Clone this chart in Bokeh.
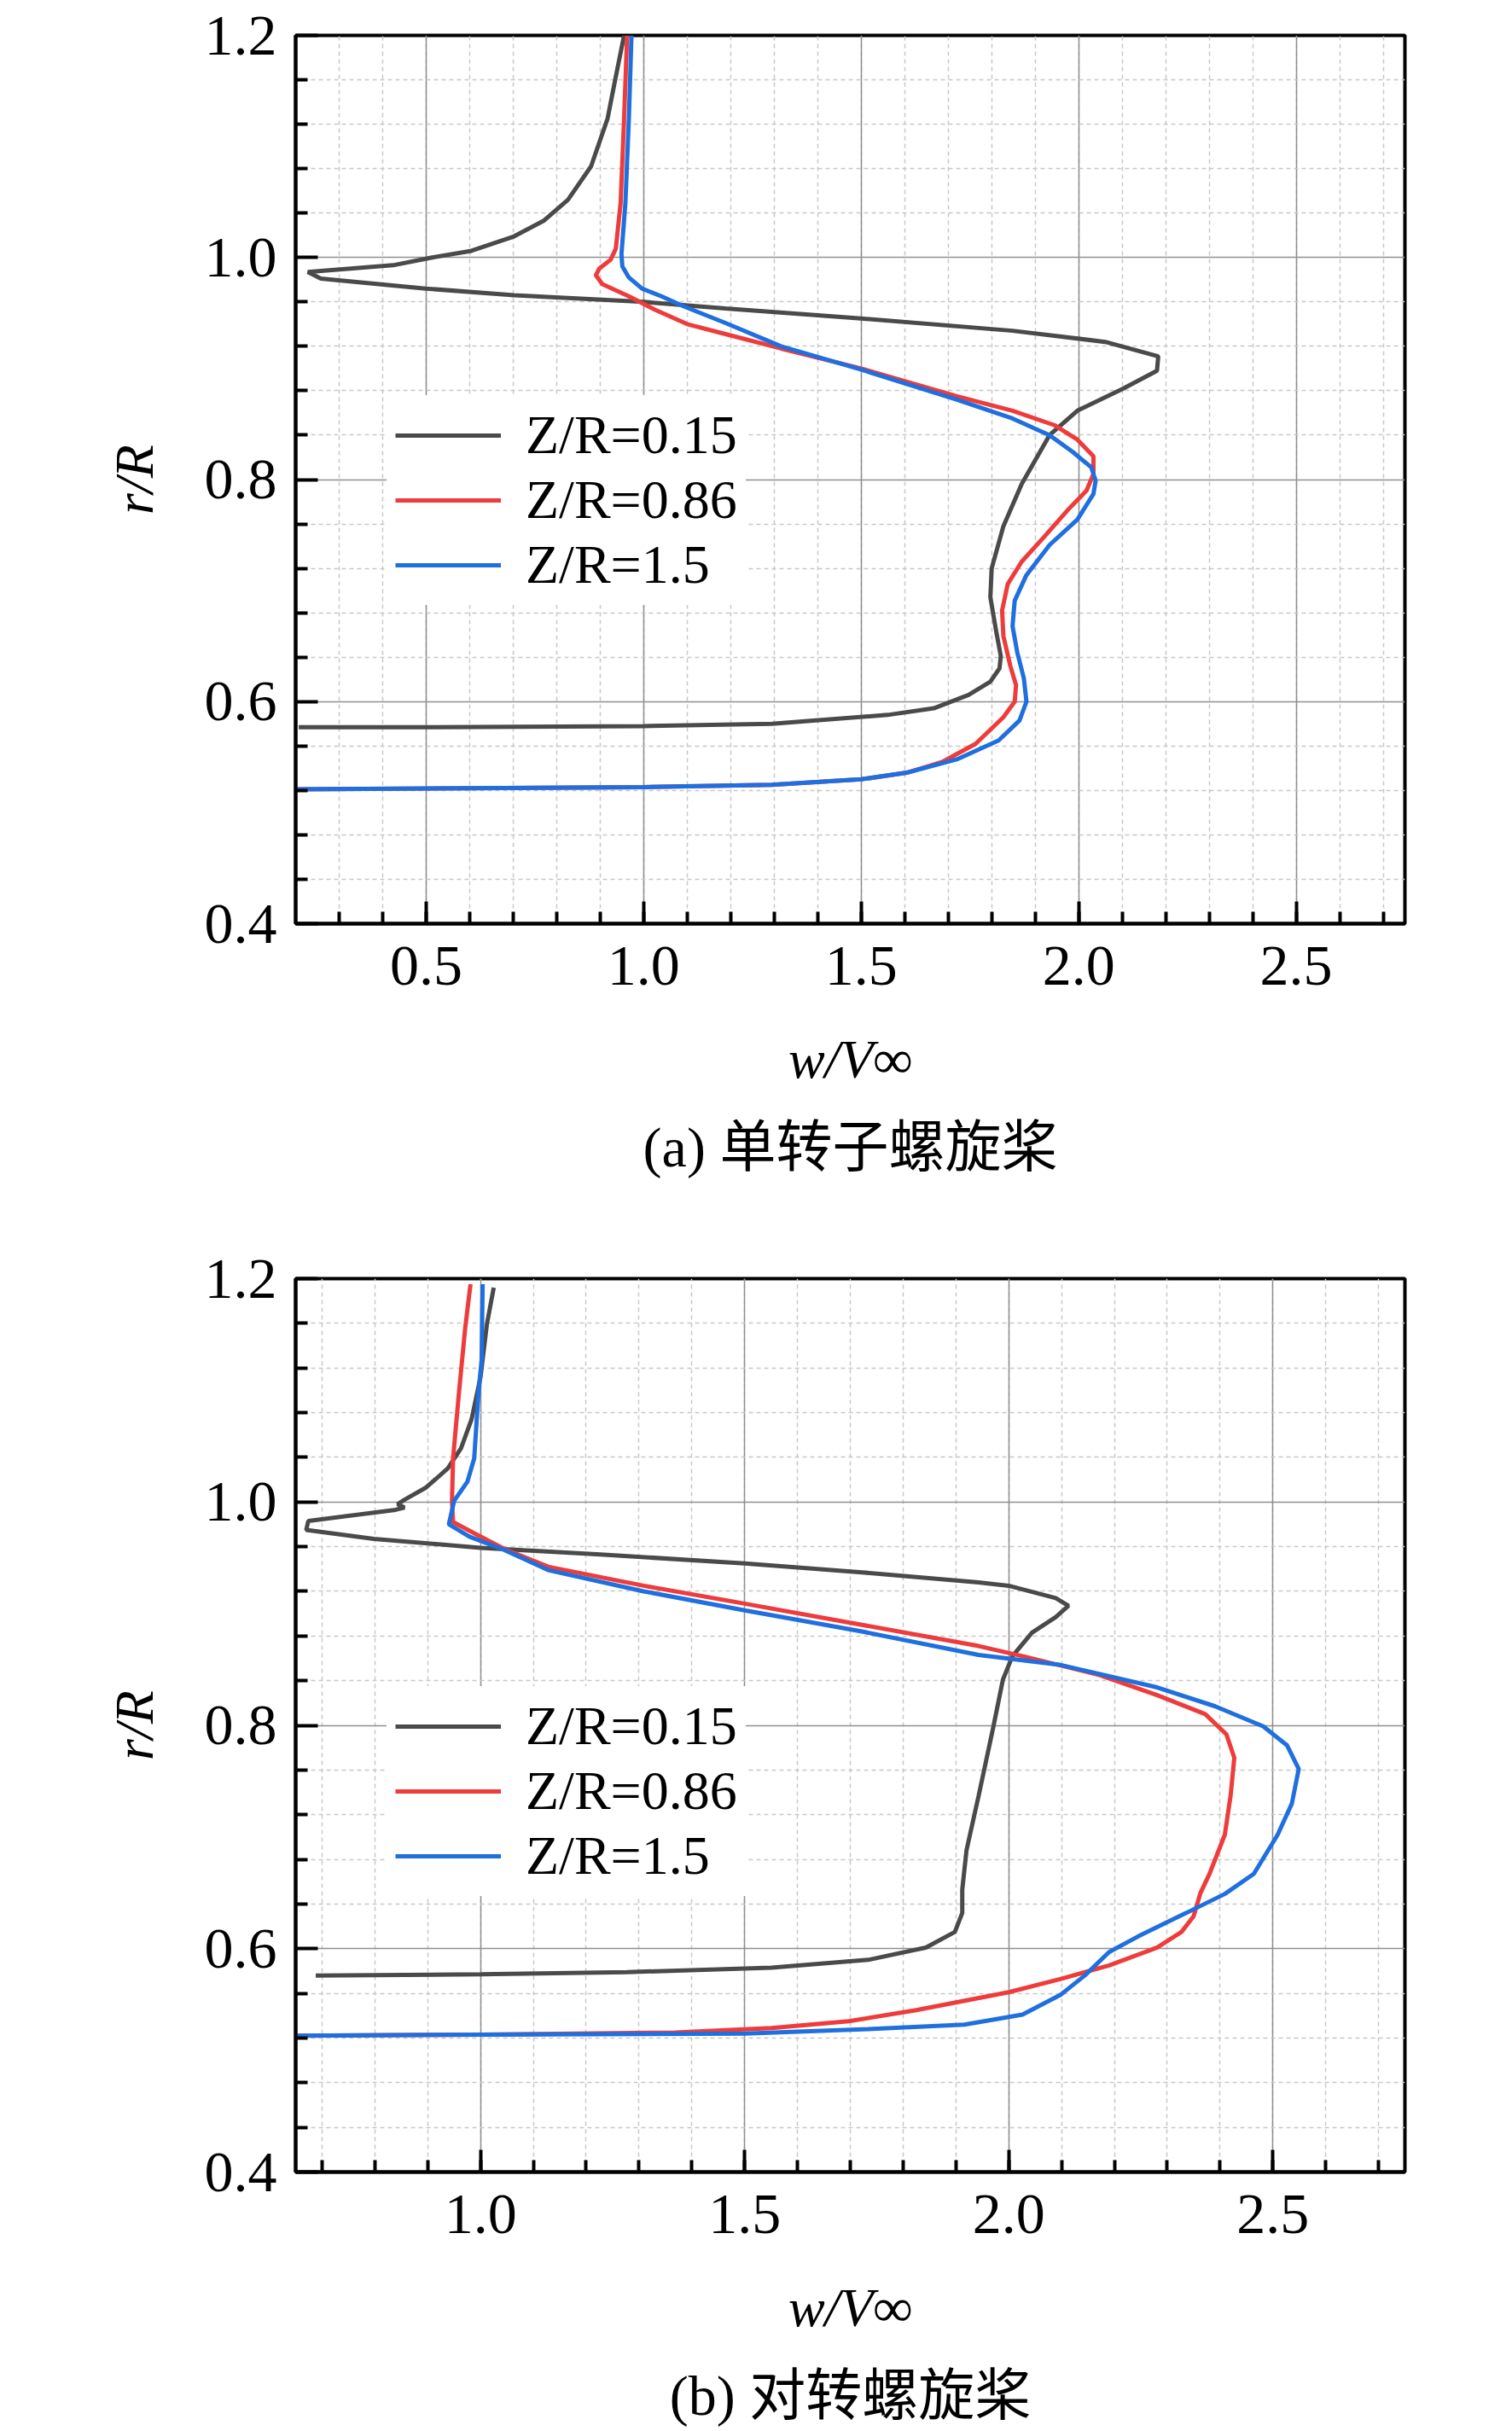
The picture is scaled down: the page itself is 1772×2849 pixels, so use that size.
from bokeh.plotting import figure
from bokeh.layouts import column
from bokeh.models import (Range1d, SingleIntervalTicker, FixedTicker, PrintfTickFormatter,
                          Legend, LegendItem, Title)
from bokeh.embed import file_html
from bokeh.resources import INLINE

# ---------------- data ----------------
series_labels = ["Z/R=0.15", "Z/R=0.86", "Z/R=1.5"]
series_colors = ["#4a4a4a", "#ee3b3b", "#1f6fde"]

# (a) single-rotor propeller
a_015_x = [0.955, 0.936, 0.917, 0.879, 0.826, 0.770, 0.702, 0.604, 0.514, 0.424, 0.228, 0.258,
           0.499, 0.702, 1.0, 1.188, 1.5, 1.848, 2.061, 2.183, 2.180, 2.103, 1.997, 1.933,
           1.869, 1.827, 1.800, 1.797, 1.811, 1.821, 1.818, 1.797, 1.747, 1.667, 1.561,
           1.295, 1.0, 0.518, 0.207]
a_015_y = [1.2, 1.163, 1.125, 1.082, 1.052, 1.033, 1.019, 1.006, 1.000, 0.993, 0.987, 0.981,
           0.972, 0.966, 0.960, 0.954, 0.945, 0.934, 0.924, 0.911, 0.898, 0.882, 0.862, 0.840,
           0.796, 0.758, 0.720, 0.694, 0.662, 0.641, 0.630, 0.618, 0.606, 0.594, 0.588,
           0.580, 0.578, 0.577, 0.577]

a_086_x = [0.962, 0.955, 0.947, 0.936, 0.924, 0.898, 0.890, 0.905, 0.966, 1.026, 1.100, 1.188,
           1.316, 1.5, 1.72, 1.848, 1.944, 1.997, 2.034, 2.034, 2.018, 1.976, 1.922, 1.869,
           1.837, 1.824, 1.827, 1.843, 1.856, 1.853, 1.827, 1.763, 1.688, 1.605, 1.5, 1.295,
           1.0, 0.2]
a_086_y = [1.2, 1.125, 1.049, 1.008, 0.998, 0.990, 0.984, 0.976, 0.965, 0.953, 0.940, 0.931,
           0.918, 0.900, 0.875, 0.862, 0.849, 0.836, 0.821, 0.805, 0.790, 0.773, 0.749, 0.726,
           0.706, 0.682, 0.659, 0.632, 0.615, 0.600, 0.586, 0.562, 0.546, 0.536, 0.530, 0.525,
           0.523, 0.521]

a_15_x = [0.972, 0.966, 0.958, 0.949, 0.951, 0.966, 0.996, 1.041, 1.092, 1.188, 1.316, 1.5,
          1.72, 1.848, 1.933, 1.986, 2.029, 2.039, 2.034, 1.997, 1.933, 1.880, 1.853, 1.848,
          1.859, 1.874, 1.880, 1.864, 1.816, 1.72, 1.605, 1.5, 1.295, 1.0, 0.2]
a_15_y = [1.2, 1.125, 1.049, 1.003, 0.992, 0.982, 0.972, 0.965, 0.956, 0.941, 0.920, 0.899,
          0.872, 0.855, 0.840, 0.825, 0.811, 0.799, 0.787, 0.764, 0.741, 0.714, 0.691, 0.668,
          0.644, 0.621, 0.600, 0.583, 0.565, 0.548, 0.536, 0.530, 0.525, 0.523, 0.521]

# (b) contra-rotating propeller
b_015_x = [1.025, 1.012, 1.0, 0.983, 0.963, 0.938, 0.897, 0.856, 0.843, 0.856, 0.839, 0.674,
           0.670, 0.798, 1.0, 1.227, 1.5, 1.722, 1.943, 2.0, 2.089, 2.113, 2.089, 2.044, 2.007,
           1.989, 1.971, 1.943, 1.920, 1.912, 1.912, 1.898, 1.843, 1.734, 1.551, 1.277, 1.0,
           0.688]
b_015_y = [1.192, 1.159, 1.112, 1.074, 1.048, 1.030, 1.013, 1.002, 0.998, 0.995, 0.993, 0.983,
           0.975, 0.967, 0.959, 0.953, 0.945, 0.937, 0.928, 0.925, 0.914, 0.907, 0.897, 0.883,
           0.862, 0.841, 0.799, 0.737, 0.688, 0.653, 0.632, 0.615, 0.601, 0.590, 0.583, 0.579,
           0.577, 0.576]

b_086_x = [0.981, 0.971, 0.959, 0.948, 0.946, 0.948, 0.996, 1.045, 1.128, 1.309, 1.5, 1.722,
           1.943, 2.026, 2.172, 2.281, 2.372, 2.412, 2.427, 2.420, 2.409, 2.380, 2.363, 2.350,
           2.327, 2.281, 2.190, 2.099, 2.0, 1.825, 1.697, 1.551, 1.369, 1.0, 0.65]
b_086_y = [1.195, 1.156, 1.097, 1.039, 1.001, 0.982, 0.970, 0.958, 0.942, 0.925, 0.909, 0.890,
           0.871, 0.862, 0.845, 0.827, 0.810, 0.792, 0.771, 0.737, 0.702, 0.667, 0.650, 0.629,
           0.615, 0.601, 0.585, 0.573, 0.561, 0.545, 0.535, 0.529, 0.525, 0.523, 0.522]

b_15_x = [1.004, 1.002, 0.996, 0.988, 0.975, 0.950, 0.940, 0.979, 1.045, 1.128, 1.309, 1.5,
          1.722, 1.943, 2.099, 2.281, 2.391, 2.482, 2.527, 2.549, 2.536, 2.509, 2.464, 2.409,
          2.336, 2.245, 2.190, 2.144, 2.099, 2.026, 1.916, 1.734, 1.5, 1.0, 0.65]
b_15_y = [1.195, 1.127, 1.097, 1.039, 1.018, 1.001, 0.980, 0.969, 0.957, 0.939, 0.920, 0.903,
          0.884, 0.863, 0.854, 0.834, 0.817, 0.799, 0.782, 0.761, 0.730, 0.702, 0.667, 0.649,
          0.632, 0.611, 0.597, 0.576, 0.559, 0.541, 0.532, 0.528, 0.524, 0.523, 0.522]

x_major_interval = 0.5
y_major_ticks = [0.4, 0.6, 0.8, 1.0, 1.2]
y_minor_ticks = [round(0.4 + 0.04 * i, 2) for i in range(1, 20) if i % 5]
captions = ["(a) 单转子螺旋桨", "(b) 对转螺旋桨"]
x_label = "w/V∞"
y_label = "r/R"

SERIF = "Liberation Serif"
CAPFONT = "Liberation Serif, Noto Sans CJK SC"


def make_panel(xs, ys, x_start, caption, height, top, bottom, legend_loc):
    p = figure(width=1756, height=height,
               x_range=Range1d(x_start, 2.75), y_range=Range1d(0.4, 1.2),
               output_backend="svg", toolbar_location=None,
               min_border_left=346, min_border_right=110,
               min_border_top=top, min_border_bottom=bottom)
    p.background_fill_color = "white"
    p.border_fill_color = "white"
    p.outline_line_color = "black"
    p.outline_line_width = 4

    p.xaxis.ticker = SingleIntervalTicker(interval=x_major_interval, num_minor_ticks=5)
    p.yaxis.ticker = FixedTicker(ticks=y_major_ticks, minor_ticks=y_minor_ticks)
    p.xaxis.formatter = PrintfTickFormatter(format="%.1f")
    p.yaxis.formatter = PrintfTickFormatter(format="%.1f")

    for ax in (p.xaxis, p.yaxis):
        ax.axis_line_width = 4
        ax.axis_line_color = "black"
        ax.major_tick_line_width = 4
        ax.minor_tick_line_width = 4
        ax.major_tick_in = 26
        ax.major_tick_out = 0
        ax.minor_tick_in = 14
        ax.minor_tick_out = 0
        ax.major_label_text_font = SERIF
        ax.major_label_text_font_size = "68px"
        ax.major_label_text_color = "black"
        ax.axis_label_text_font = SERIF
        ax.axis_label_text_font_size = "64px"
        ax.axis_label_text_font_style = "italic"
        ax.axis_label_text_color = "black"

    p.xaxis.axis_label = x_label
    p.yaxis.axis_label = y_label
    p.xaxis.major_label_standoff = 27
    p.xaxis.axis_label_standoff = 49
    p.yaxis.major_label_standoff = 22
    p.yaxis.axis_label_standoff = 44

    for g in (p.xgrid, p.ygrid):
        g.grid_line_color = "#8f8f8f"
        g.grid_line_width = 1.5
        g.minor_grid_line_color = "#c8c8c8"
        g.minor_grid_line_width = 1.5
        g.minor_grid_line_dash = "5 4"

    renderers = []
    for x, y, c in zip(xs, ys, series_colors):
        r = p.line(x, y, line_color=c, line_width=5)
        renderers.append(r)

    legend = Legend(items=[LegendItem(label=l, renderers=[r])
                           for l, r in zip(series_labels, renderers)],
                    location=legend_loc)
    legend.label_text_font = SERIF
    legend.label_text_font_size = "64px"
    legend.label_text_color = "black"
    legend.glyph_width = 124
    legend.glyph_height = 40
    legend.label_standoff = 29
    legend.padding = 10
    legend.spacing = 2
    legend.margin = 0
    legend.background_fill_color = "white"
    legend.background_fill_alpha = 1.0
    legend.border_line_alpha = 0
    p.add_layout(legend)

    t = Title(text=caption, align="center", text_font=CAPFONT,
              text_font_size="66px", text_font_style="normal",
              text_color="black", standoff=52)
    p.add_layout(t, "below")
    return p


pa = make_panel([a_015_x, a_086_x, a_15_x], [a_015_y, a_086_y, a_15_y], 0.2,
                captions[0], 1410, 41, 328, (107, 373))
pb = make_panel([b_015_x, b_086_x, b_15_x], [b_015_y, b_086_y, b_15_y], 0.65,
                captions[1], 1470, 88, 335, (107, 323))

layout = column(pa, pb, spacing=0)
open("out.html", "w").write(file_html(layout, INLINE))
